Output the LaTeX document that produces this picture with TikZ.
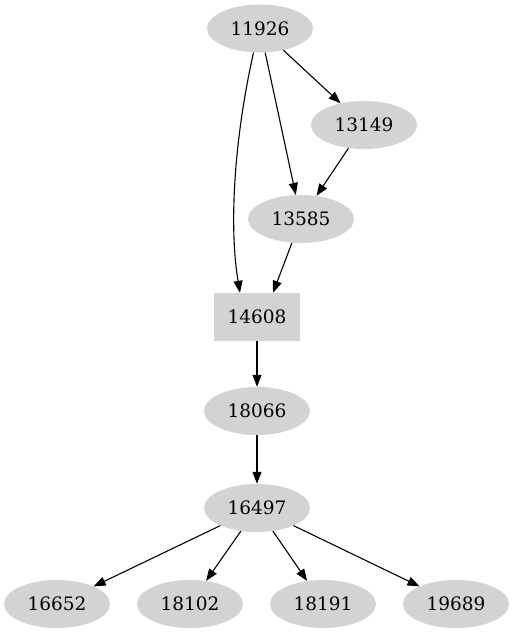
\documentclass[tikz,border=0pt]{standalone}
\usepackage{fontspec}
\setmainfont{DejaVu Serif}
\usetikzlibrary{shapes.geometric,arrows.meta}
\tikzset{
  ell/.style={ellipse, fill={rgb,255:red,211;green,211;blue,211}, draw=none, minimum width=106, minimum height=48, inner sep=0pt, font=\fontsize{18.5}{20}\selectfont},
  boxn/.style={rectangle, fill={rgb,255:red,211;green,211;blue,211}, draw=none, minimum width=86, minimum height=48, inner sep=0pt, font=\fontsize{18.5}{20}\selectfont},
  edge/.style={draw=black, line width=1.1pt, -{Triangle[length=12,width=9]}}
}
\begin{document}
\begin{tikzpicture}[x=1pt,y=-1pt]
\useasboundingbox (0,0) rectangle (514,635);
\node[ell] (n11926) at (260,28.5) {11926};
\node[ell] (n13149) at (364,125) {13149};
\node[ell] (n13585) at (301,219) {13585};
\node[boxn] (n14608) at (257,317) {14608};
\node[ell] (n18066) at (257,411) {18066};
\node[ell] (n16497) at (257,508) {16497};
\node[ell] (n16652) at (57,604) {16652};
\node[ell] (n18102) at (190,604) {18102};
\node[ell] (n18191) at (323,604) {18191};
\node[ell] (n19689) at (456,604) {19689};
\draw[edge] (n11926.255) .. controls (236,130) and (228,220) .. ([xshift=-17]n14608.north);
\draw[edge] (n11926) -- (n13585);
\draw[edge] (n11926) -- (n13149);
\draw[edge] (n13149) -- (n13585);
\draw[edge] (n13585) -- ([xshift=16]n14608.north);
\draw[edge] (n14608) -- (n18066);
\draw[edge] (n18066) -- (n16497);
\draw[edge] (n16497) -- (n16652);
\draw[edge] (n16497) -- (n18102);
\draw[edge] (n16497) -- (n18191);
\draw[edge] (n16497) -- (n19689);
\end{tikzpicture}
\end{document}
